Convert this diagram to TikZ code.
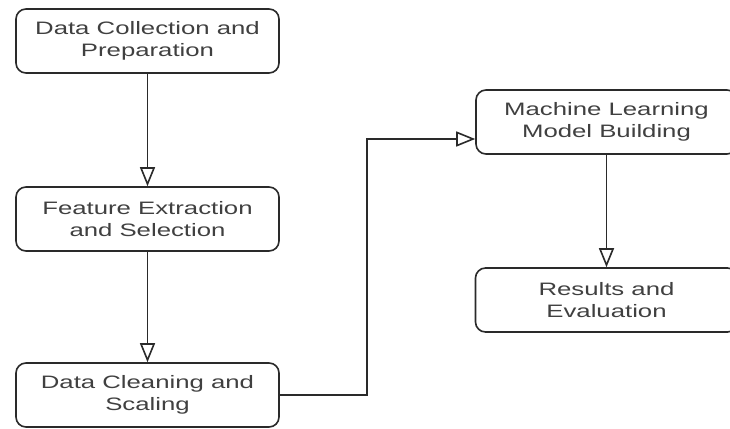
\documentclass[tikz,border=0pt]{standalone}
\usepackage{fontspec}
\setmainfont{Liberation Sans}[FakeStretch=1.43]
\usetikzlibrary{arrows.meta}
\definecolor{linec}{HTML}{2A2A2A}
\definecolor{textc}{HTML}{404040}
\tikzset{
  flowbox/.style={draw=linec, line width=1.6pt, rounded corners=10pt, fill=white,
    minimum width=263pt, minimum height=64pt, inner sep=0pt, align=center,
    text=textc, font=\fontsize{18}{22}\selectfont},
  flowarr/.style={draw=linec, line width=1.6pt,
    -{Triangle[open, length=19pt, width=15pt, line width=1.6pt]}}
}
\begin{document}
\begin{tikzpicture}[x=1pt, y=-1pt]
\useasboundingbox (0,0) rectangle (730,428);
\clip (0,0) rectangle (730,428);
\fill[white] (0,0) rectangle (730,428);
\node[flowbox] (b1) at (147.5,41) {Data Collection and\\Preparation};
\node[flowbox] (b2) at (147.5,219) {Feature Extraction\\and Selection};
\node[flowbox] (b3) at (147.5,395) {Data Cleaning and\\Scaling};
\node[flowbox, minimum width=261pt] (b4) at (606.5,122) {Machine Learning\\Model Building};
\node[flowbox, minimum width=262pt] (b5) at (606.5,300) {Results and\\Evaluation};
\coordinate (k) at (367,139);
\draw[flowarr] (b1.south) -- (b2.north);
\draw[flowarr] (b2.south) -- (b3.north);
\draw[flowarr] (b3.east) -| (k) -- (k -| b4.west);
\draw[flowarr] (b4.south) -- (b5.north);
\end{tikzpicture}
\end{document}
